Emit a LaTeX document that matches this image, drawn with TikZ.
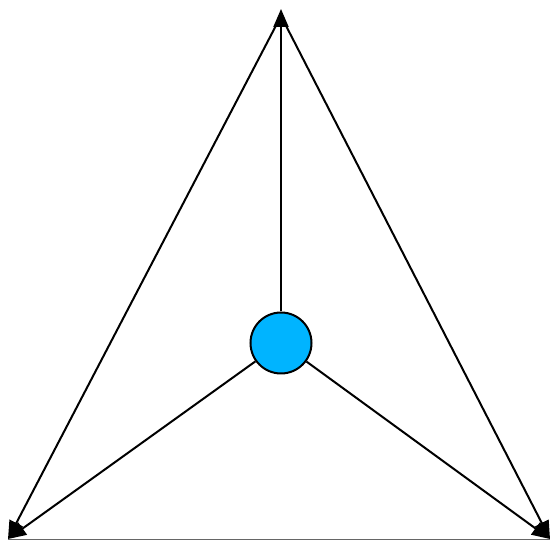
\documentclass[tikz,border=0pt]{standalone}
\usetikzlibrary{arrows.meta}
\definecolor{nodeblue}{RGB}{0,180,255}
\tikzset{
  link/.style={line width=2pt, -{Triangle[length=18pt,width=15pt]}},
  plain/.style={line width=2pt},
  hub/.style={circle, draw=black, line width=2pt, fill=nodeblue, minimum size=61pt, inner sep=0pt}
}
\begin{document}
\begin{tikzpicture}[x=1pt,y=-1pt]
\useasboundingbox (0,0) rectangle (550,540);
\coordinate (t) at (281,9);
\coordinate (bl) at (8,539);
\coordinate (br) at (550,539);
\coordinate (top) at (281,16);
\node[hub] (c) at (281,343) {};
\draw[link] (c) -- (t);
\draw[link] (c) -- (bl);
\draw[link] (c) -- (br);
\draw[link] (top) -- (bl);
\draw[link] (top) -- (br);
\draw[plain, draw=black!60] ([yshift=-1pt]bl) -- ([yshift=-1pt]br);
\end{tikzpicture}
\end{document}
